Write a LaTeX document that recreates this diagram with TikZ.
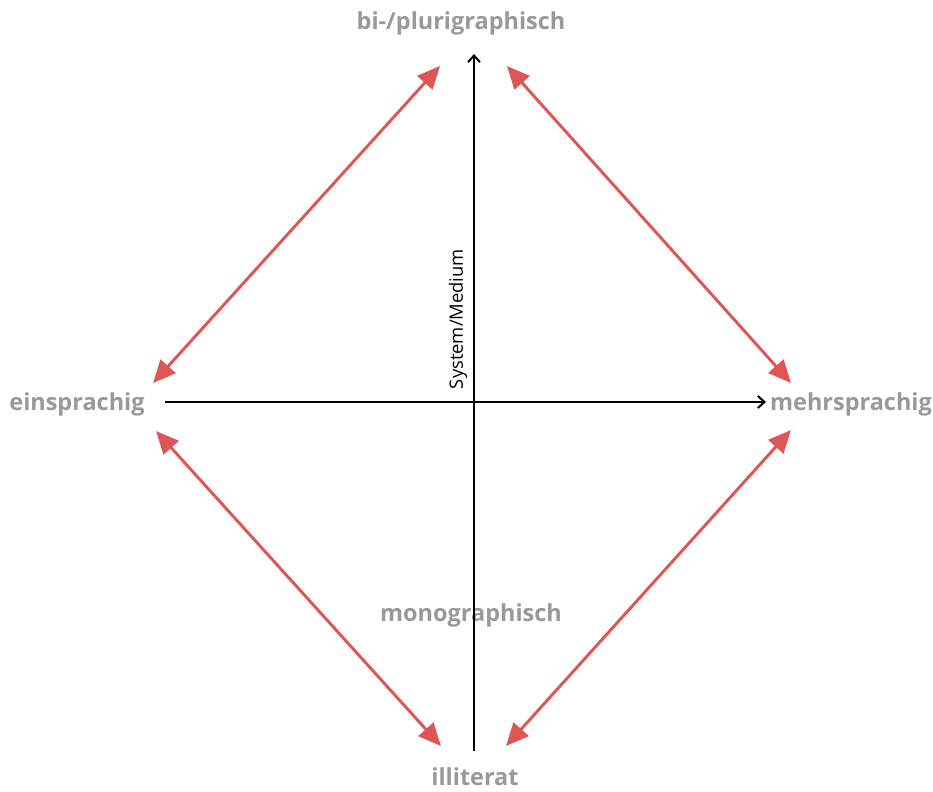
\documentclass[tikz,border=0pt]{standalone}
\usepackage{fontspec}
\setmainfont{Open Sans}
\usepackage{tikz}
\usetikzlibrary{arrows.meta,positioning}
\definecolor{pole}{HTML}{999999}
\definecolor{link}{HTML}{DD5555}

\begin{document}
\begin{tikzpicture}[
  x=0.75pt, y=-0.75pt,
  pole/.style={text=pole, font=\fontsize{17.6}{20}\selectfont\bfseries, inner sep=0pt},
  axis/.style={-{Straight Barb[length=5pt,width=9pt]}, line width=1.5pt},
  link/.style={{Triangle[length=17pt,width=15pt]}-{Triangle[length=17pt,width=15pt]}, draw=link, fill=link, line width=2.2pt},
]
  \useasboundingbox (0,0) rectangle (933,792);

  % Pole labels
  \node[pole] (top) at (461,23) {bi-/plurigraphisch};
  \node[pole] (left) at (77,404) {einsprachig};
  \node[pole] (right) at (851,404) {mehrsprachig};
  \node[pole] (mono) at (471,615) {monographisch};
  \node[pole] (bottom) at (475,777) {illiterat};

  % Axes
  \coordinate (xstart) at (165,402);
  \coordinate (xend) at (766,402);
  \coordinate (ystart) at (474,751);
  \coordinate (yend) at (474,54);
  \draw[axis] (xstart) -- (xend);
  \draw[axis] (ystart) -- (yend);
  \node[rotate=90, font=\fontsize{13.8}{16}\selectfont, inner sep=0pt] (sysmed) at (458,319) {System/Medium};

  % Diamond links
  \coordinate (tl1) at (153,383);
  \coordinate (tl2) at (440,66);
  \coordinate (tr1) at (507,66);
  \coordinate (tr2) at (791,383);
  \coordinate (bl1) at (156,431);
  \coordinate (bl2) at (441,746);
  \coordinate (br1) at (791,430);
  \coordinate (br2) at (506,746);
  \draw[link] (tl1) -- (tl2);
  \draw[link] (tr1) -- (tr2);
  \draw[link] (bl1) -- (bl2);
  \draw[link] (br1) -- (br2);
\end{tikzpicture}
\end{document}
